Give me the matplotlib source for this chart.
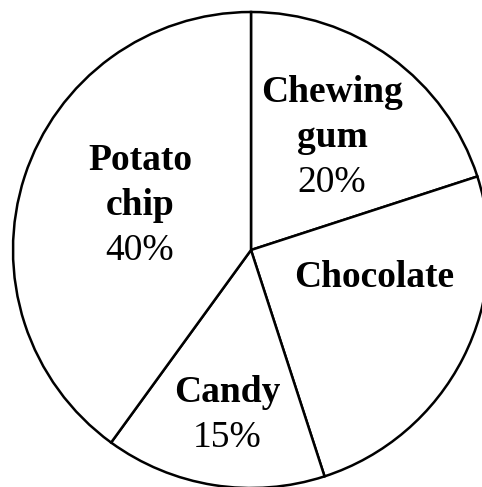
import matplotlib.pyplot as plt

# slice data, clockwise from the top
snacks = ["Chewing gum", "Chocolate", "Candy", "Potato chip"]
shares = [20, 25, 15, 40]

# label text (name lines, percent line or None) and where it sits in pixels
name_lines = [["Chewing", "gum"], ["Chocolate"], ["Candy"], ["Potato", "chip"]]
pct_text = ["20%", None, "15%", "40%"]
label_xy = [(332, 102), (374, 287), (227, 402), (140, 170)]

W, H = 482, 487
fig = plt.figure(figsize=(W / 100, H / 100), dpi=100)
ax = fig.add_axes([0, 0, 1, 1])
ax.set_xlim(0, W)
ax.set_ylim(0, H)
ax.set_aspect("equal")
ax.axis("off")

ax.pie(shares, startangle=90, counterclock=False, center=(251, H - 250),
       radius=238, colors=["white"] * len(shares),
       wedgeprops=dict(edgecolor="black", linewidth=1.8))
ax.set_xlim(0, W)
ax.set_ylim(0, H)

line_h = 45
for lines, pct, (x, y) in zip(name_lines, pct_text, label_xy):
    yy = y
    for ln in lines:
        ax.text(x, H - yy, ln, ha="center", va="baseline",
                fontfamily="Liberation Serif", fontweight="bold", fontsize=27)
        yy += line_h
    if pct:
        ax.text(x, H - yy, pct, ha="center", va="baseline",
                fontfamily="Liberation Serif", fontsize=27)

fig.savefig("out.png", dpi=100)
